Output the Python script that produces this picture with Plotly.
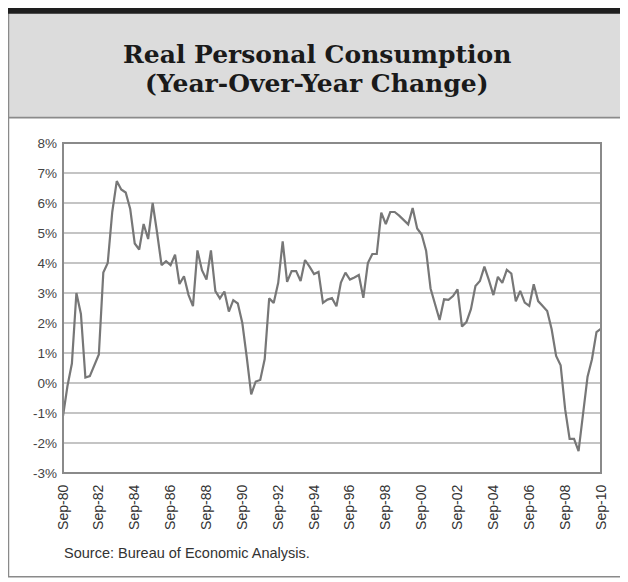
import pandas as pd
import plotly.graph_objects as go

# ---------------- data (quarterly, Sep-80 .. Sep-10) ----------------
yoy_change = [
    -1.10, -0.10, 0.65, 3.00, 2.30, 0.18, 0.23, 0.60, 0.95, 3.68,
    4.00, 5.70, 6.73, 6.45, 6.35, 5.80, 4.65, 4.45, 5.30, 4.80,
    6.00, 5.00, 3.93, 4.06, 3.93, 4.28, 3.30, 3.56, 2.94, 2.56,
    4.42, 3.76, 3.45, 4.42, 3.06, 2.82, 3.05, 2.38, 2.76, 2.65,
    2.00, 0.85, -0.38, 0.05, 0.10, 0.80, 2.82, 2.67, 3.34, 4.72,
    3.37, 3.73, 3.73, 3.40, 4.10, 3.88, 3.63, 3.70, 2.67, 2.78,
    2.83, 2.56, 3.35, 3.68, 3.45, 3.52, 3.60, 2.84, 4.00, 4.30,
    4.30, 5.68, 5.30, 5.70, 5.70, 5.58, 5.43, 5.29, 5.83, 5.15,
    4.95, 4.40, 3.15, 2.60, 2.10, 2.79, 2.77, 2.90, 3.12, 1.88,
    2.03, 2.46, 3.23, 3.40, 3.88, 3.43, 2.93, 3.54, 3.34, 3.77,
    3.65, 2.72, 3.07, 2.68, 2.57, 3.29, 2.73, 2.57, 2.40, 1.79,
    0.90, 0.59, -0.88, -1.86, -1.86, -2.27, -0.99, 0.21, 0.79, 1.70,
    1.81,
]
quarters = pd.date_range("1980-09-01", periods=len(yoy_change), freq="3MS")

x_tick_dates = pd.date_range("1980-09-01", "2010-09-01", freq="24MS")
x_tick_labels = ["Sep-80", "Sep-82", "Sep-84", "Sep-86", "Sep-88", "Sep-90",
                 "Sep-92", "Sep-94", "Sep-96", "Sep-98", "Sep-00", "Sep-02",
                 "Sep-04", "Sep-06", "Sep-08", "Sep-10"]
y_tick_vals = [-3, -2, -1, 0, 1, 2, 3, 4, 5, 6, 7, 8]
y_tick_labels = ["-3%", "-2%", "-1%", "0%", "1%", "2%", "3%", "4%", "5%",
                 "6%", "7%", "8%"]

title_line1 = "Real Personal Consumption"
title_line2 = "(Year-Over-Year Change)"
source_text = "Source: Bureau of Economic Analysis."

# ---------------- layout geometry ----------------
# The page body has an 8px margin, so the figure is offset by 8px.
OFF = 8
W, H = 628 - OFF, 582 - OFF
# plot area in screen pixels
SL, SR, ST, SB = 63.3, 600.7, 143.3, 473.3
PL, PR, PT, PB = SL - OFF, SR - OFF, ST - OFF, SB - OFF
HEADER_BOTTOM = 118


def px(x):
    """screen x pixel -> paper coordinate"""
    return (x - SL) / (SR - SL)


def py(y):
    """screen y pixel -> paper coordinate"""
    return (SB - y) / (SB - ST)


fig = go.Figure()
fig.add_trace(go.Scatter(
    x=quarters, y=yoy_change, mode="lines",
    line=dict(color="#777777", width=2.2),
    hoverinfo="skip", showlegend=False,
))

shapes = [
    # header panel
    dict(type="rect", xref="paper", yref="paper",
         x0=px(8), x1=px(621), y0=py(HEADER_BOTTOM), y1=py(13),
         fillcolor="#dcdcdc", line=dict(width=0), layer="below"),
    # outer frame
    dict(type="rect", xref="paper", yref="paper",
         x0=px(8.8), x1=px(621.5), y0=py(577), y1=py(11),
         line=dict(color="#8a8a8a", width=1.6), layer="below"),
    # thick top bar
    dict(type="rect", xref="paper", yref="paper",
         x0=px(8), x1=px(628), y0=py(14), y1=py(8),
         fillcolor="#1e1e1e", line=dict(width=0)),
    # header bottom rule
    dict(type="line", xref="paper", yref="paper",
         x0=px(8), x1=px(621.5), y0=py(HEADER_BOTTOM), y1=py(HEADER_BOTTOM),
         line=dict(color="#8a8a8a", width=1.8)),
    # plot frame
    dict(type="rect", xref="paper", yref="paper",
         x0=0, x1=1, y0=0, y1=1,
         line=dict(color="#8a8a8a", width=2)),
]

annotations = [
    dict(text="<b>" + title_line1 + "</b>", xref="paper", yref="paper",
         x=px(317), y=py(55), xanchor="center", yanchor="middle",
         showarrow=False,
         font=dict(family="DejaVu Serif", size=25, color="#1a1a1a")),
    dict(text="<b>" + title_line2 + "</b>", xref="paper", yref="paper",
         x=px(317), y=py(84), xanchor="center", yanchor="middle",
         showarrow=False,
         font=dict(family="DejaVu Serif", size=25, color="#1a1a1a")),
    dict(text=source_text, xref="paper", yref="paper",
         x=px(62), y=py(553), xanchor="left", yanchor="middle",
         showarrow=False,
         font=dict(family="Liberation Sans", size=14.5, color="#333333")),
]

fig.update_layout(
    width=W, height=H,
    margin=dict(l=PL, r=W - PR, t=PT, b=H - PB, pad=0),
    paper_bgcolor="white", plot_bgcolor="white",
    shapes=shapes, annotations=annotations,
    showlegend=False,
    xaxis=dict(
        range=[quarters[0], quarters[-1]],
        tickmode="array", tickvals=x_tick_dates, ticktext=x_tick_labels,
        tickangle=-90, showgrid=False, zeroline=False, showline=False,
        ticks="", ticklabelstandoff=8,
        tickfont=dict(family="Liberation Sans", size=14, color="#333333"),
    ),
    yaxis=dict(
        range=[-3, 8], tickmode="array", tickvals=y_tick_vals,
        ticktext=y_tick_labels, showgrid=True, gridcolor="#c4c4c4",
        gridwidth=1.8, zeroline=False, showline=False, ticks="",
        ticklabelstandoff=5,
        tickfont=dict(family="Liberation Sans", size=13.5, color="#444444"),
    ),
)

fig.write_html("out.html")
